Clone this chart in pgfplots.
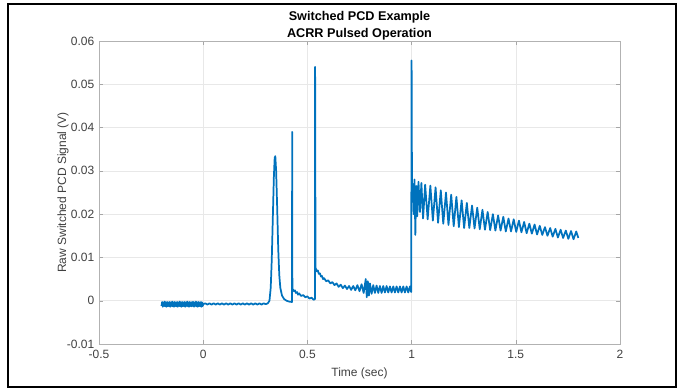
\documentclass[border=0pt]{standalone}
\usepackage{pgfplots}
\pgfplotsset{compat=1.18}
\usepackage{fontspec}
\setmainfont{Liberation Sans}
\definecolor{mblue}{RGB}{0,114,189}
\definecolor{tickgray}{RGB}{64,64,64}
\begin{document}
\begin{tikzpicture}
\useasboundingbox (-74.25pt,-33pt) rectangle (433.5pt,258pt);
\begin{axis}[
  at={(0,0)}, anchor=south west,
  scale only axis, width=390.75pt, height=227.25pt,
  xmin=-0.5, xmax=2, ymin=-0.01, ymax=0.06,
  xtick={-0.5,0,0.5,1,1.5,2},
  xticklabels={-0.5,0,0.5,1,1.5,2},
  ytick={-0.01,0,0.01,0.02,0.03,0.04,0.05,0.06},
  yticklabels={-0.01,0,0.01,0.02,0.03,0.04,0.05,0.06},
  scaled ticks=false,
  tick align=inside, major tick length=3pt,
  tick style={gray!70},
  axis line style={gray!60},
  grid=major, major grid style={gray!18},
  ticklabel style={font=\fontsize{9}{10}\selectfont, text=tickgray},
  xticklabel style={yshift=-1pt},
  label style={font=\fontsize{9}{10}\selectfont, text=tickgray},
  xlabel={Time (sec)},
  ylabel={Raw Switched PCD Signal (V)},
  xlabel style={at={(axis description cs:0.5,-0.097)}, anchor=center},
  ylabel style={at={(axis description cs:-0.069,0.5)}, anchor=center},
  title={Switched PCD Example\\ACRR Pulsed Operation},
  title style={font=\bfseries\fontsize{9.5}{12.5}\selectfont, align=center, at={(axis description cs:0.5,1)}, anchor=south, yshift=-9pt},
]
\addplot[mblue, line width=1.3pt, line join=round] coordinates {
(-0.200,-0.0012) (-0.197,-0.0003) (-0.194,-0.0014) (-0.191,-0.0004) (-0.188,-0.0012)
(-0.185,-0.0002) (-0.182,-0.0013) (-0.179,-0.0004) (-0.176,-0.0014) (-0.173,-0.0003)
(-0.170,-0.0012) (-0.167,-0.0004) (-0.164,-0.0013) (-0.161,-0.0003) (-0.158,-0.0014)
(-0.155,-0.0004) (-0.152,-0.0012) (-0.149,-0.0002) (-0.146,-0.0013) (-0.143,-0.0004)
(-0.140,-0.0014) (-0.137,-0.0003) (-0.134,-0.0012) (-0.131,-0.0004) (-0.128,-0.0013)
(-0.125,-0.0003) (-0.122,-0.0014) (-0.119,-0.0004) (-0.116,-0.0012) (-0.113,-0.0002)
(-0.110,-0.0013) (-0.107,-0.0004) (-0.104,-0.0014) (-0.101,-0.0003) (-0.098,-0.0012)
(-0.095,-0.0004) (-0.092,-0.0013) (-0.089,-0.0003) (-0.086,-0.0014) (-0.083,-0.0004)
(-0.080,-0.0012) (-0.077,-0.0002) (-0.074,-0.0013) (-0.071,-0.0004) (-0.068,-0.0014)
(-0.065,-0.0003) (-0.062,-0.0012) (-0.059,-0.0004) (-0.056,-0.0013) (-0.053,-0.0003)
(-0.050,-0.0012) (-0.047,-0.0003) (-0.044,-0.0014) (-0.041,-0.0004) (-0.038,-0.0012)
(-0.035,-0.0002) (-0.032,-0.0013) (-0.029,-0.0004) (-0.026,-0.0014) (-0.023,-0.0003)
(-0.020,-0.0012) (-0.017,-0.0004) (-0.014,-0.0013) (-0.011,-0.0003) (-0.008,-0.0014)
(-0.005,-0.0004) (-0.002,-0.0012) (0.000,-0.0008)
(0.010,-0.0006) (0.020,-0.0009) (0.030,-0.0006) (0.040,-0.0009) (0.050,-0.0006)
(0.060,-0.0009) (0.070,-0.0006) (0.080,-0.0009) (0.090,-0.0006) (0.100,-0.0009)
(0.110,-0.0006) (0.120,-0.0009) (0.130,-0.0006) (0.140,-0.0009) (0.150,-0.0006)
(0.160,-0.0009) (0.170,-0.0006) (0.180,-0.0009) (0.190,-0.0006) (0.200,-0.0009)
(0.210,-0.0006) (0.220,-0.0009) (0.230,-0.0006) (0.240,-0.0009) (0.250,-0.0006)
(0.260,-0.0009) (0.270,-0.0006) (0.280,-0.0009) (0.290,-0.0006) (0.300,-0.0008)
(0.310,-0.0006) (0.318,0.0000) (0.324,0.0030) (0.329,0.0095) (0.334,0.0190)
(0.339,0.0285) (0.343,0.0330) (0.346,0.0334) (0.350,0.0300) (0.355,0.0215)
(0.360,0.0120) (0.365,0.0060) (0.370,0.0030) (0.378,0.0012) (0.388,0.0004)
(0.400,0.0000) (0.412,-0.0002) (0.426,-0.0003)
(0.427,0.0390) (0.428,0.0028) (0.435,0.0022) (0.440,0.0024) (0.445,0.0018)
(0.450,0.0020) (0.455,0.0014) (0.460,0.0017) (0.470,0.0011) (0.480,0.0013)
(0.490,0.0008) (0.500,0.0010) (0.510,0.0005) (0.520,0.0007) (0.530,0.0002)
(0.536,0.0004)
(0.537,0.0540) (0.539,0.0076) (0.545,0.0068) (0.550,0.0070) (0.555,0.0062)
(0.560,0.0063) (0.565,0.0056) (0.570,0.0057) (0.575,0.0050) (0.580,0.0052)
(0.590,0.0045) (0.600,0.0047) (0.610,0.0040) (0.620,0.0043) (0.630,0.0036)
(0.640,0.0040) (0.650,0.0032) (0.660,0.0037) (0.670,0.0029) (0.680,0.0035)
(0.690,0.0027) (0.700,0.0034) (0.710,0.0025) (0.720,0.0034) (0.730,0.0024)
(0.740,0.0036) (0.750,0.0022) (0.760,0.0038) (0.770,0.0018) (0.780,0.0050)
(0.785,0.0008) (0.790,0.0045) (0.795,0.0012) (0.800,0.0040) (0.808,0.0016)
(0.816,0.0036) (0.824,0.0018) (0.832,0.0035) (0.840,0.0018) (0.848,0.0034)
(0.856,0.0018) (0.864,0.0034) (0.872,0.0019) (0.880,0.0034) (0.888,0.0019)
(0.896,0.0033) (0.904,0.0019) (0.912,0.0033) (0.920,0.0019) (0.928,0.0033)
(0.936,0.0019) (0.944,0.0033) (0.952,0.0019) (0.960,0.0033) (0.968,0.0019)
(0.976,0.0033) (0.984,0.0019) (0.992,0.0033) (0.998,0.0020)
(1.000,0.0555) (1.002,0.0240) (1.006,0.0270) (1.010,0.0200) (1.014,0.0280)
(1.018,0.0152) (1.022,0.0265) (1.027,0.0195) (1.033,0.0275) (1.040,0.0205)
(1.047,0.0272) (1.055,0.0190) (1.065,0.0268) (1.077,0.0188) (1.090,0.0266)
(1.102,0.0185) (1.115,0.0262) (1.127,0.0180) (1.140,0.0255) (1.152,0.0178)
(1.165,0.0250) (1.177,0.0175) (1.190,0.0245) (1.202,0.0172) (1.215,0.0240)
(1.227,0.0170) (1.240,0.0232) (1.252,0.0168) (1.265,0.0226) (1.277,0.0168)
(1.290,0.0220) (1.302,0.0167) (1.315,0.0215) (1.327,0.0165) (1.340,0.0210)
(1.352,0.0164) (1.365,0.0205) (1.377,0.0163) (1.390,0.0200) (1.402,0.0162)
(1.415,0.0197) (1.427,0.0162) (1.440,0.0194) (1.452,0.0160) (1.465,0.0190)
(1.477,0.0160) (1.490,0.0188) (1.502,0.0159) (1.515,0.0185) (1.527,0.0158)
(1.540,0.0182) (1.552,0.0156) (1.565,0.0178) (1.577,0.0155) (1.590,0.0176)
(1.602,0.0153) (1.615,0.0173) (1.627,0.0152) (1.640,0.0170) (1.652,0.0150)
(1.665,0.0168) (1.677,0.0148) (1.690,0.0166) (1.702,0.0146) (1.715,0.0164)
(1.727,0.0145) (1.740,0.0162) (1.752,0.0143) (1.765,0.0161) (1.777,0.0142)
(1.790,0.0160) (1.800,0.0145)
};
\end{axis}
\draw[line width=1.5pt] (-68.25pt,-32.25pt) rectangle (432.75pt,255pt);
\end{tikzpicture}
\end{document}
